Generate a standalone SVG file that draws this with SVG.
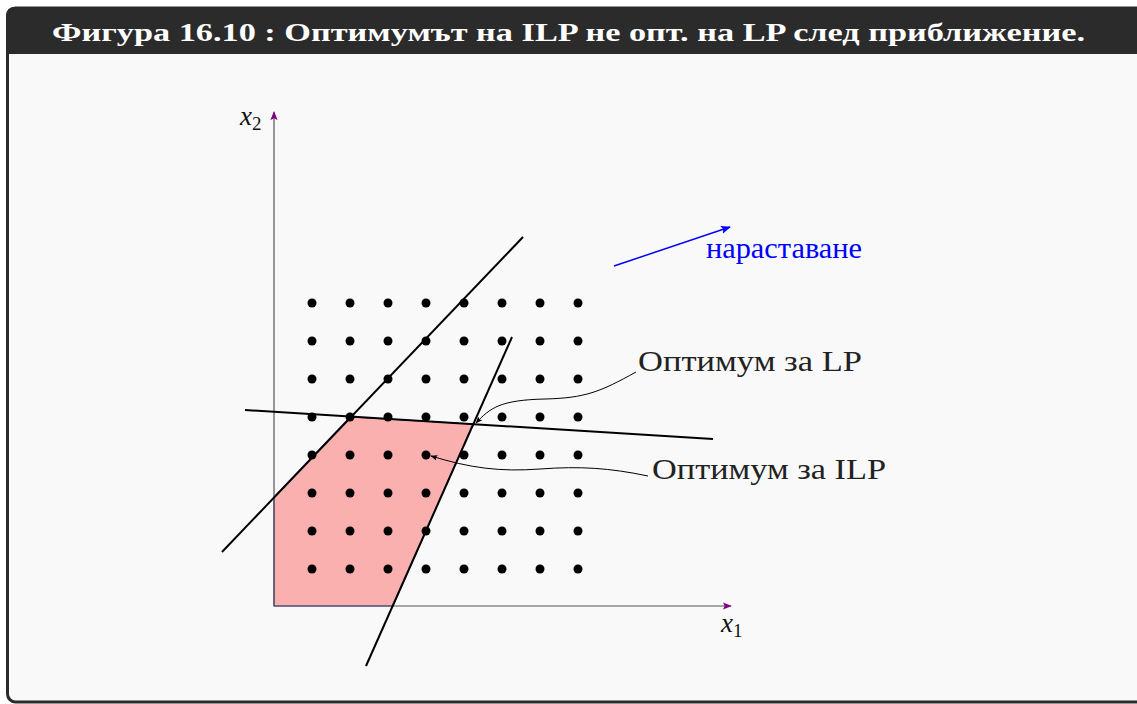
<svg xmlns="http://www.w3.org/2000/svg" width="1137" height="704" viewBox="0 0 1137 704">
<defs>
<style>
.dot{fill:#000}
.ln{stroke:#000;stroke-width:2;fill:none}
.ax{stroke:#555;stroke-width:1.2;fill:none}
.lbl{font-family:"Liberation Serif",serif;font-size:30px;fill:#222}
.axl{font-family:"Liberation Serif",serif;font-style:italic;font-size:27px;fill:#111}
.sub{font-family:"Liberation Serif",serif;font-size:19px;fill:#111}
.pin{stroke:#000;stroke-width:1;fill:none}
</style>
<marker id="axh" viewBox="0 0 10 10" refX="9" refY="5" markerWidth="9" markerHeight="9" markerUnits="userSpaceOnUse" orient="auto"><path d="M0,1 L10,5 L0,9 L2,5 Z" fill="#800080"/></marker>
<marker id="bh" viewBox="0 0 10 10" refX="9" refY="5" markerWidth="10" markerHeight="10" markerUnits="userSpaceOnUse" orient="auto"><path d="M0,1 L10,5 L0,9 L2,5 Z" fill="#0000ff"/></marker>
<marker id="kh" viewBox="0 0 10 10" refX="9" refY="5" markerWidth="7" markerHeight="7" markerUnits="userSpaceOnUse" orient="auto"><path d="M0,1 L10,5 L0,9 L2,5 Z" fill="#000"/></marker>
</defs>
<rect width="1137" height="704" fill="#ffffff"/>
<rect x="7.5" y="8" width="1140" height="694" rx="8" fill="#f9f9f9" stroke="#2b2b2b" stroke-width="3"/>
<path d="M6,54 L6,16 Q6,7 15,7 L1137,7 L1137,54 Z" fill="#2b2b2b"/>
<text x="52" y="41" font-family="Liberation Serif,serif" font-weight="bold" font-size="25" fill="#ffffff" textLength="1033" lengthAdjust="spacingAndGlyphs">Фигура 16.10 : Оптимумът на ILP не опт. на LP след приближение.</text>

<g id="region">
<polygon points="274,606 274,497 350,417 473,424 393,606" fill="#fbb0b0" stroke="#3a3aa8" stroke-width="1.2"/>
</g>

<g id="axes">
<line class="ax" x1="274" y1="606" x2="731" y2="606" marker-end="url(#axh)"/>
<line class="ax" x1="274" y1="606" x2="274" y2="112" marker-end="url(#axh)"/>
<text class="axl" x="240" y="125">x<tspan class="sub" font-style="normal" dy="5">2</tspan></text>
<text class="axl" x="721" y="632">x<tspan class="sub" font-style="normal" dy="5">1</tspan></text>
</g>

<g id="dots">
<g class="dot">
<circle cx="312" cy="303" r="4.5"/><circle cx="350" cy="303" r="4.5"/><circle cx="388" cy="303" r="4.5"/><circle cx="426" cy="303" r="4.5"/><circle cx="464" cy="303" r="4.5"/><circle cx="502" cy="303" r="4.5"/><circle cx="540" cy="303" r="4.5"/><circle cx="578" cy="303" r="4.5"/>
<circle cx="312" cy="341" r="4.5"/><circle cx="350" cy="341" r="4.5"/><circle cx="388" cy="341" r="4.5"/><circle cx="426" cy="341" r="4.5"/><circle cx="464" cy="341" r="4.5"/><circle cx="502" cy="341" r="4.5"/><circle cx="540" cy="341" r="4.5"/><circle cx="578" cy="341" r="4.5"/>
<circle cx="312" cy="379" r="4.5"/><circle cx="350" cy="379" r="4.5"/><circle cx="388" cy="379" r="4.5"/><circle cx="426" cy="379" r="4.5"/><circle cx="464" cy="379" r="4.5"/><circle cx="502" cy="379" r="4.5"/><circle cx="540" cy="379" r="4.5"/><circle cx="578" cy="379" r="4.5"/>
<circle cx="312" cy="417" r="4.5"/><circle cx="350" cy="417" r="4.5"/><circle cx="388" cy="417" r="4.5"/><circle cx="426" cy="417" r="4.5"/><circle cx="464" cy="417" r="4.5"/><circle cx="502" cy="417" r="4.5"/><circle cx="540" cy="417" r="4.5"/><circle cx="578" cy="417" r="4.5"/>
<circle cx="312" cy="455" r="4.5"/><circle cx="350" cy="455" r="4.5"/><circle cx="388" cy="455" r="4.5"/><circle cx="426" cy="455" r="4.5"/><circle cx="464" cy="455" r="4.5"/><circle cx="502" cy="455" r="4.5"/><circle cx="540" cy="455" r="4.5"/><circle cx="578" cy="455" r="4.5"/>
<circle cx="312" cy="493" r="4.5"/><circle cx="350" cy="493" r="4.5"/><circle cx="388" cy="493" r="4.5"/><circle cx="426" cy="493" r="4.5"/><circle cx="464" cy="493" r="4.5"/><circle cx="502" cy="493" r="4.5"/><circle cx="540" cy="493" r="4.5"/><circle cx="578" cy="493" r="4.5"/>
<circle cx="312" cy="531" r="4.5"/><circle cx="350" cy="531" r="4.5"/><circle cx="388" cy="531" r="4.5"/><circle cx="426" cy="531" r="4.5"/><circle cx="464" cy="531" r="4.5"/><circle cx="502" cy="531" r="4.5"/><circle cx="540" cy="531" r="4.5"/><circle cx="578" cy="531" r="4.5"/>
<circle cx="312" cy="569" r="4.5"/><circle cx="350" cy="569" r="4.5"/><circle cx="388" cy="569" r="4.5"/><circle cx="426" cy="569" r="4.5"/><circle cx="464" cy="569" r="4.5"/><circle cx="502" cy="569" r="4.5"/><circle cx="540" cy="569" r="4.5"/><circle cx="578" cy="569" r="4.5"/>
</g>
</g>

<g id="constraints">
<line class="ln" x1="222" y1="552" x2="523" y2="237"/>
<line class="ln" x1="366" y1="666" x2="512" y2="337"/>
<line class="ln" x1="245" y1="410" x2="713" y2="439"/>
</g>

<g id="objective">
<line x1="614" y1="266" x2="730" y2="227" stroke="#0000ff" stroke-width="1.5" marker-end="url(#bh)"/>
<text x="706" y="258" font-family="Liberation Serif,serif" font-size="30" fill="#0000ff" textLength="156" lengthAdjust="spacingAndGlyphs">нараставане</text>
</g>

<g id="label-lp">
<text class="lbl" x="638" y="371" textLength="224" lengthAdjust="spacingAndGlyphs">Оптимум за LP</text>
</g>
<g id="label-ilp">
<text class="lbl" x="652" y="479" textLength="234" lengthAdjust="spacingAndGlyphs">Оптимум за ILP</text>
</g>

<g id="connectors">
<path class="pin" d="M636,372 C600,392 585,398 545,399 C500,400 490,408 476,423" marker-end="url(#kh)"/>
<path class="pin" d="M648,476 C610,468 580,466 540,469 C500,472 470,468 431,456" marker-end="url(#kh)"/>
</g>
</svg>
